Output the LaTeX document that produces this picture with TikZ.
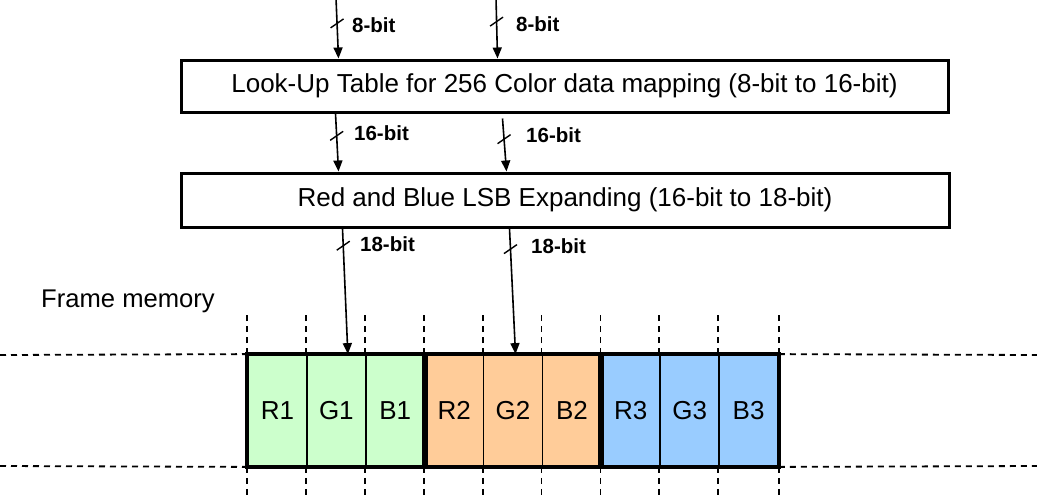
\documentclass[tikz,border=0pt]{standalone}
\usepackage{fontspec}
\setmainfont{Liberation Sans}
\usetikzlibrary{arrows.meta,calc}
\definecolor{cellgreen}{HTML}{CCFFCC}
\definecolor{cellorange}{HTML}{FFCC99}
\definecolor{cellblue}{HTML}{99CCFF}
\begin{document}
\begin{tikzpicture}[x=1pt,y=-1pt,
  stage/.style={draw, line width=3pt, inner sep=0pt, minimum width=767pt,
    minimum height=52pt, font=\fontsize{26}{30}\selectfont},
  cell/.style={draw, line width=1.8pt, inner sep=0pt, minimum width=58.9pt,
    minimum height=111pt, font=\fontsize{26}{30}\selectfont},
  group/.style={draw, line width=4pt},
  bus/.style={line width=1.6pt, -{Triangle[length=11pt,width=9pt]}},
  tick/.style={line width=1.4pt},
  buslabel/.style={anchor=west, inner sep=0pt, font=\bfseries\fontsize{20.5}{24}\selectfont},
  guide/.style={line width=1.8pt, dash pattern=on 6pt off 5pt},
]
\useasboundingbox (0,0) rectangle (1037,499);

% processing stages
\node[stage] (lut) at (564.5,86) {Look-Up Table for 256 Color data mapping (8-bit to 16-bit)};
\node[stage, minimum width=768pt, minimum height=54pt] (lsb) at (565,200)
  {Red and Blue LSB Expanding (16-bit to 18-bit)};

% frame memory cells
\foreach \n/\c [count=\i from 0] in {r1/cellgreen,g1/cellgreen,b1/cellgreen,
    r2/cellorange,g2/cellorange,b2/cellorange,r3/cellblue,g3/cellblue,b3/cellblue}
  \node[cell, fill=\c] (\n) at ({248+29.45+58.89*\i},410.5) {\MakeUppercase{\n}};
\draw[group] (r1.north west) rectangle (b1.south east);
\draw[group] (r2.north west) rectangle (b2.south east);
\draw[group] (r3.north west) rectangle (b3.south east);

\node[anchor=base west, inner sep=0pt, font=\fontsize{25.6}{30}\selectfont] (fm) at (41,307) {Frame memory};

% dashed guides
\draw[guide] (0,355) -- (r1.north west);
\draw[guide] (0,466) -- (r1.south west);
\draw[guide] (b3.north east) -- (1037,355);
\draw[guide] (b3.south east) -- (1037,466);
\foreach \n in {r1,g1,b1,r2,g2,b2,r3,g3,b3} {
  \draw[guide] (\n.north west) -- ++(0,-39);
  \draw[guide] (\n.south west) -- ++(0,33);
}
\draw[guide] (b3.north east) -- ++(0,-39);
\draw[guide] (b3.south east) -- ++(0,33);

% buses
\coordinate (in1) at (336,-2);
\coordinate (in2) at (496,-2);
\draw[bus] (in1) -- ([xshift=159pt]lut.north west) coordinate[pos=0.42] (t1);
\draw[bus] (in2) -- ([xshift=318pt]lut.north west) coordinate[pos=0.39] (t2);
\draw[bus] ([xshift=156pt]lut.south west) -- ([xshift=159pt]lsb.north west) coordinate[pos=0.385] (t3);
\draw[bus] ([xshift=323pt,yshift=-5pt]lut.south west) -- ([xshift=327pt]lsb.north west) coordinate[pos=0.39] (t4);
\draw[bus] ([xshift=163pt]lsb.south west) -- ([xshift=11.5pt]g1.north) coordinate[pos=0.137] (t5);
\draw[bus] ([xshift=330pt]lsb.south west) -- ([xshift=2.5pt]g2.north) coordinate[pos=0.164] (t6);
\foreach \t in {t1,t2,t3,t4,t5,t6}
  \draw[tick] ($(\t)+(-6.5,4.5)$) -- ($(\t)+(6.5,-4.5)$);

\node[buslabel] (l1) at (352,25) {8-bit};
\node[buslabel] (l2) at (516,24) {8-bit};
\node[buslabel] (l3) at (354,133) {16-bit};
\node[buslabel] (l4) at (526,135) {16-bit};
\node[buslabel] (l5) at (360,244) {18-bit};
\node[buslabel] (l6) at (531,246) {18-bit};
\end{tikzpicture}
\end{document}
